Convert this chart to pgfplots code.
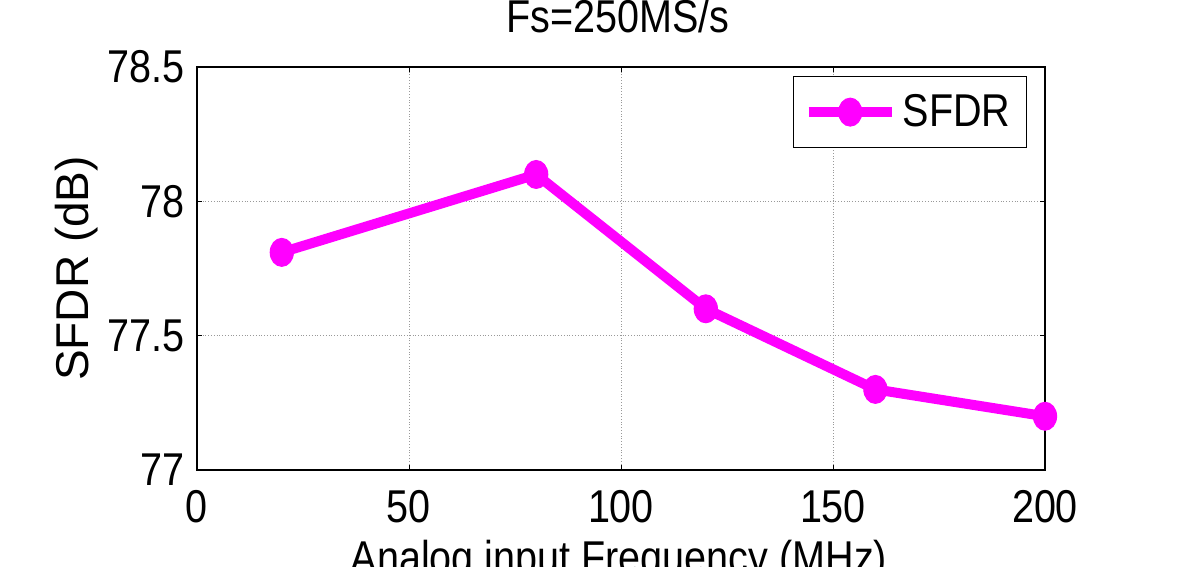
\documentclass[border=0pt]{standalone}
\usepackage{pgfplots}
\pgfplotsset{compat=1.18}
\usepackage{fontspec}
\setmainfont{Liberation Sans}[FakeStretch=0.86]
\newfontfamily\ylfont{Liberation Sans}
\definecolor{sfdr}{HTML}{FF00FF}
\begin{document}
\begin{tikzpicture}[font=\fontsize{23pt}{27pt}\selectfont]
% page = reference frame, 1 px = 0.5 pt, origin at the lower left of the axis
\useasboundingbox (-98.5pt,-48.5pt) rectangle (495.5pt,235pt);
\clip (-98.5pt,-48.5pt) rectangle (495.5pt,235pt);
\begin{axis}[scale only axis, width=424pt, height=201.5pt, at={(0,0)}, anchor=south west,
  xmin=0, xmax=200, ymin=77, ymax=78.5,
  xtick={0,50,100,150,200}, ytick={77,77.5,78,78.5},
  /pgf/number format/assume math mode=true,
  grid=major, grid style={densely dotted, gray!80, line width=0.4pt},
  axis line style={black, line width=0.6pt},
  tick align=inside, major tick length=2.5pt, tick style={black, line width=0.5pt},
  xticklabel style={anchor=base, inner sep=0pt, yshift=-26.5pt},
  yticklabel style={anchor=east, inner sep=0pt, xshift=-6pt},
  title={Fs=250MS/s},
  title style={at={(axis description cs:0.4965,1.057)}, anchor=base, inner sep=0pt},
  xlabel={Analog input Frequency (MHz)},
  xlabel style={at={(axis description cs:0.4976,-0.258)}, anchor=base, inner sep=0pt},
  ylabel={\ylfont SFDR (dB)},
  ylabel style={at={(axis description cs:-0.1285,0.5)}, anchor=base, inner sep=0pt},
  clip=false,
  legend style={at={(axis description cs:0.9788,0.9777)}, anchor=north east,
    draw=black, line width=0.6pt, inner xsep=5pt, inner ysep=6pt,
    nodes={inner sep=3pt}},
  legend cell align=left,
  legend image code/.code={\draw[mark repeat=2, mark phase=2, #1]
    plot coordinates {(0pt,0pt) (20.75pt,0pt) (41.5pt,0pt)};}]
\addplot[color=sfdr, line width=5pt, mark=*, mark size=7pt,
  mark options={fill=sfdr, line width=0.5pt, xscale=0.83}]
  coordinates {(20,77.81) (80,78.10) (120,77.60) (160,77.30) (200,77.20)};
\addlegendentry{SFDR}
\end{axis}
\end{tikzpicture}
\end{document}
